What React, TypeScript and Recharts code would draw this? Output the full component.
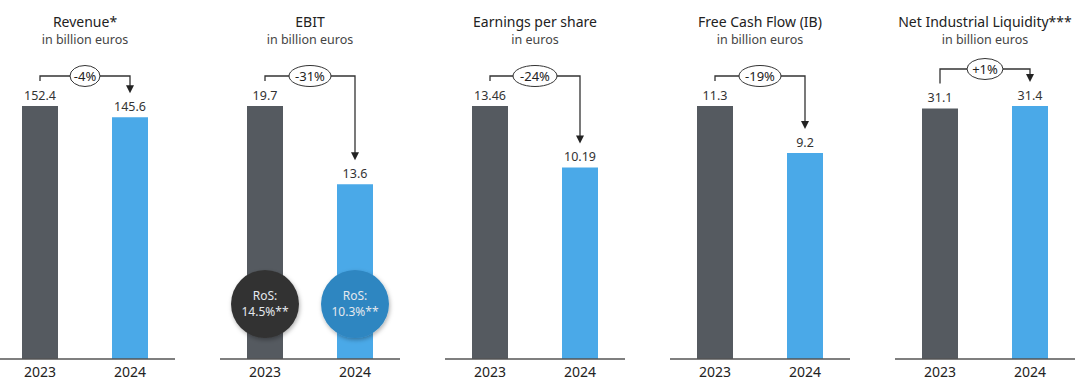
import { BarChart, Bar, XAxis, YAxis, Cell, LabelList } from 'recharts';

// Key figures 2023 vs 2024
const years = ['2023', '2024'];
const revenue = [152.4, 145.6];
const ebit = [19.7, 13.6];
const eps = [13.46, 10.19];
const freeCashFlow = [11.3, 9.2];
const liquidity = [31.1, 31.4];

const titles = ['Revenue*', 'EBIT', 'Earnings per share', 'Free Cash Flow (IB)', 'Net Industrial Liquidity***'];
const units = ['in billion euros', 'in billion euros', 'in euros', 'in billion euros', 'in billion euros'];
const changes = ['-4%', '-31%', '-24%', '-19%', '+1%'];
const decimals = [1, 1, 2, 1, 1];
const rosLabels = ['14.5%**', '10.3%**'];

const series = [revenue, ebit, eps, freeCashFlow, liquidity];

// layout
const PANEL_STEP = 225;
const PANEL_W = 225;
const PLOT_W = 180;
const BAND = PLOT_W / years.length;
const bracketY = [76, 76, 76, 76, 69];
const ovalRx = [15, 21, 22, 21, 18];

const BAR_COLORS = ['#555a60', '#4aa9e8'];
const ROS_COLORS = ['#333333', '#2f86c1'];
const FONT = '"Noto Sans", "Open Sans", sans-serif';

function makeLabel(panel: number) {
  return function PanelLabel(props: any) {
    const x = Number(props.x);
    const y = Number(props.y);
    const w = Number(props.width);
    const h = Number(props.height);
    const idx = Number(props.index);
    const cx = x + w / 2;
    const lineY = bracketY[panel];
    const midX = idx === 0 ? cx + BAND / 2 : cx - BAND / 2;
    const text = Number(props.value).toFixed(decimals[panel]);
    return (
      <g>
        <text x={cx} y={y - 6} textAnchor="middle" fontSize={12.5} fill="#333" fontFamily={FONT}>
          {text}
        </text>
        {idx === 0 ? (
          <path d={`M${cx},${y - 25} V${lineY} H${midX}`} fill="none" stroke="#333" strokeWidth={1.3} />
        ) : (
          <g>
            <path d={`M${midX},${lineY} H${cx} V${y - 30}`} fill="none" stroke="#333" strokeWidth={1.3} />
            <polygon points={`${cx - 4},${y - 32} ${cx + 4},${y - 32} ${cx},${y - 24}`} fill="#222" />
            <ellipse cx={midX} cy={lineY} rx={ovalRx[panel]} ry={10.5} fill="#fff" stroke="#333" strokeWidth={1} />
            <text x={midX} y={lineY + 4.5} textAnchor="middle" fontSize={13} fill="#222" fontFamily={FONT}>
              {changes[panel]}
            </text>
          </g>
        )}
        {panel === 1 && (
          <g>
            <circle cx={cx} cy={y + h - 55} r={34} fill={ROS_COLORS[idx]} filter="url(#rosShadow)" />
            <text x={cx} y={y + h - 55 - 4} textAnchor="middle" fontSize={12} fill="#e4e8ee" fontFamily={FONT}>
              RoS:
            </text>
            <text x={cx} y={y + h - 55 + 12} textAnchor="middle" fontSize={12} fill="#e4e8ee" fontFamily={FONT}>
              {rosLabels[idx]}
            </text>
          </g>
        )}
      </g>
    );
  };
}

function Panel({ panel }: { panel: number }) {
  const values = series[panel];
  const data = years.map((year, i) => ({ year, value: values[i] }));
  const max = Math.max(...values);
  const left = -5 + PANEL_STEP * panel;
  return (
    <div style={{ position: 'absolute', left, top: 0, width: PANEL_W, height: 386 }}>
      <div
        style={{
          position: 'absolute',
          left: PLOT_W / 2 - 150,
          width: 300,
          top: 12,
          textAlign: 'center',
          fontSize: 14,
          lineHeight: '20px',
          color: '#222',
          whiteSpace: 'nowrap',
        }}
      >
        {titles[panel]}
      </div>
      <div
        style={{
          position: 'absolute',
          left: PLOT_W / 2 - 150,
          width: 300,
          top: 32,
          textAlign: 'center',
          fontSize: 12.5,
          lineHeight: '16px',
          color: '#444',
        }}
      >
        {units[panel]}
      </div>
      <BarChart
        width={PANEL_W}
        height={386}
        data={data}
        margin={{ top: 106, right: PANEL_W - PLOT_W, bottom: 0, left: 0 }}
        style={{ position: 'absolute', left: 0, top: 0, overflow: 'visible' }}
      >
        <defs>
          <filter id="rosShadow" x="-30%" y="-30%" width="160%" height="160%">
            <feDropShadow dx={1} dy={2} stdDeviation={2} floodColor="#000" floodOpacity={0.3} />
          </filter>
        </defs>
        <XAxis
          dataKey="year"
          height={27}
          tickLine={false}
          axisLine={{ stroke: '#555', strokeWidth: 1.5 }}
          tick={{ fill: '#222', fontSize: 14, fontFamily: FONT }}
        />
        <YAxis hide domain={[0, max]} allowDataOverflow />
        <Bar dataKey="value" barSize={36} isAnimationActive={false}>
          {data.map((d, i) => (
            <Cell key={d.year} fill={BAR_COLORS[i]} />
          ))}
          <LabelList dataKey="value" content={makeLabel(panel)} />
        </Bar>
      </BarChart>
    </div>
  );
}

export default function App() {
  return (
    <div
      style={{
        position: 'absolute',
        left: 0,
        top: 0,
        width: 1080,
        height: 386,
        overflow: 'hidden',
        background: '#fff',
        fontFamily: FONT,
      }}
    >
      {titles.map((t, i) => (
        <Panel key={t} panel={i} />
      ))}
    </div>
  );
}
